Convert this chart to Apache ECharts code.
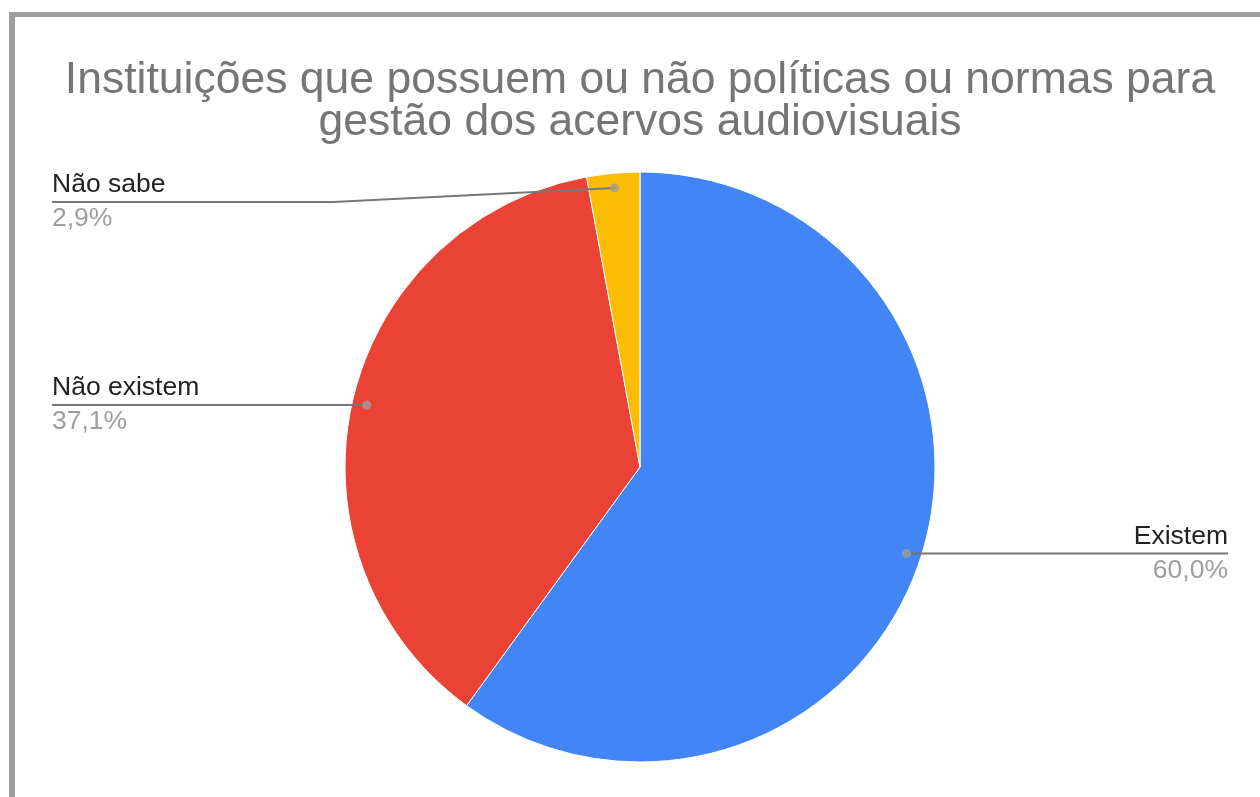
<!DOCTYPE html>
<html>
<head>
<meta charset="utf-8">
<script src="https://cdn.jsdelivr.net/npm/echarts@6/dist/echarts.min.js"></script>
<style>
html,body{margin:0;padding:0;background:#fff;overflow:hidden;width:1260px;height:797px;}
#chart{position:absolute;left:0;top:0;width:1280px;height:797px;}
</style>
</head>
<body>
<div id="chart"></div>
<script>
// ---- data ----
const titleText = 'Instituições que possuem ou não políticas ou normas para\ngestão dos acervos audiovisuais';
const categories = ['Existem', 'Não existem', 'Não sabe'];
const values = [60.0, 37.1, 2.9];

// ---- style / layout ----
const sliceColors = ['#4285F4', '#EA4335', '#FBBC04'];
const FONT = '"Liberation Sans", Arial, sans-serif';
const CY = 467, RADIUS = 295, DOT_R = 0.95;
const LABEL_EDGE = 52, LABEL_MIN_Y = 202;

const chart = echarts.init(document.getElementById('chart'), null, {renderer: 'canvas'});

const total = values.reduce((a, b) => a + b, 0);
let cum = 0;
const dotData = values.map(v => { const mid = cum + v / 2; cum += v; return [DOT_R, mid / total * 100]; });

const pieData = categories.map((c, i) => ({name: c, value: values[i], itemStyle: {color: sliceColors[i]}}));

const option = {
  animation: false,
  backgroundColor: '#fff',
  title: {
    text: titleText,
    left: 'center',
    top: 59,
    padding: 0,
    textStyle: {fontFamily: FONT, fontSize: 44.5, fontWeight: 'normal', color: '#757575', lineHeight: 42.5}
  },
  graphic: [
    {type: 'rect', shape: {x: 9, y: 12, width: 6, height: 800}, style: {fill: '#9e9e9e'}, silent: true},
    {type: 'rect', shape: {x: 9, y: 12, width: 1280, height: 5}, style: {fill: '#9e9e9e'}, silent: true}
  ],
  polar: {center: ['50%', CY], radius: RADIUS},
  angleAxis: {type: 'value', min: 0, max: 100, startAngle: 90, clockwise: true, show: false},
  radiusAxis: {type: 'value', min: 0, max: 1, show: false},
  series: [
    {
      type: 'pie',
      z: 2,
      center: ['50%', CY],
      radius: RADIUS,
      startAngle: 90,
      clockwise: true,
      silent: true,
      itemStyle: {borderColor: '#fff', borderWidth: 1},
      data: pieData,
      label: {show: false},
      labelLine: {show: false}
    },
    {
      // same slices, transparent, only to carry the labels above the pie
      type: 'pie',
      z: 3,
      center: ['50%', CY],
      radius: RADIUS,
      startAngle: 90,
      clockwise: true,
      avoidLabelOverlap: false,
      silent: true,
      itemStyle: {color: 'rgba(0,0,0,0)', borderWidth: 0},
      data: categories.map((c, i) => ({name: c, value: values[i]})),
      label: {
        show: true,
        position: 'outside',
        fontFamily: FONT,
        formatter: p => '{n|' + p.name + '}\n{p|' + p.percent.toFixed(1).replace('.', ',') + '%}',
        rich: {
          n: {fontFamily: FONT, fontSize: 26.5, color: '#222222', lineHeight: 34},
          p: {fontFamily: FONT, fontSize: 26.5, color: '#9e9e9e', lineHeight: 34}
        }
      },
      labelLine: {show: true, length: 10, length2: 10, smooth: false, lineStyle: {color: '#777777', width: 2}},
      labelLayout: function (p) {
        const W = chart.getWidth();
        const cx = W / 2, cy = CY, R = RADIUS;
        const p0 = p.labelLinePoints[0];
        const dx = (p0[0] - cx) / R, dy = (p0[1] - cy) / R;
        const dot = [cx + dx * R * DOT_R, cy + dy * R * DOT_R];
        const isLeft = dx < 0;
        const x = isLeft ? LABEL_EDGE : W - LABEL_EDGE;
        const y = Math.max(dot[1], LABEL_MIN_Y);
        return {
          x: x, y: y,
          align: isLeft ? 'left' : 'right',
          verticalAlign: 'middle',
          labelLinePoints: [dot, [(dot[0] + x) / 2, y], [x, y]]
        };
      }
    },
    {
      type: 'scatter',
      coordinateSystem: 'polar',
      silent: true,
      z: 10,
      symbol: 'circle',
      symbolSize: 9,
      itemStyle: {color: '#9e9e9e'},
      data: dotData
    }
  ]
};
chart.setOption(option);
</script>
</body>
</html>
